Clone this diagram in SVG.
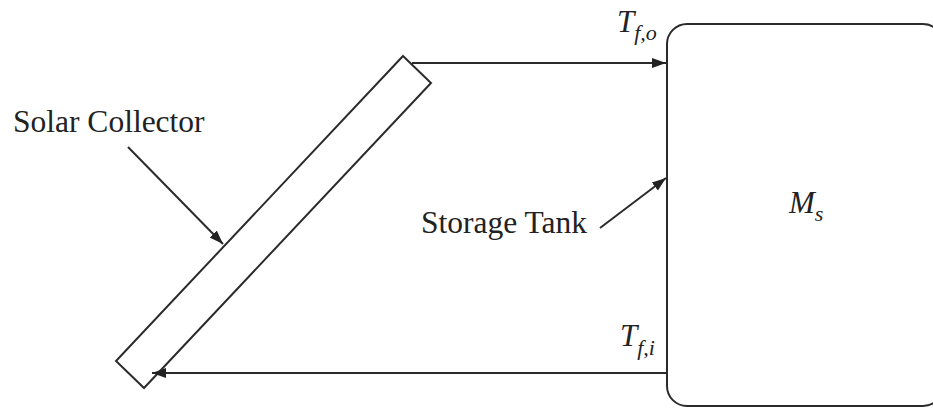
<svg xmlns="http://www.w3.org/2000/svg" width="933" height="408" viewBox="0 0 933 408">
  <style>
    .shape { fill: #ffffff; stroke: #2b2b2b; stroke-width: 2; }
    .conn { fill: none; stroke: #2b2b2b; stroke-width: 2; }
    .lbl { font-family: "Liberation Serif", "Times New Roman", serif; font-size: 31.5px; fill: #222222; }
    .var { font-family: "Liberation Serif", "Times New Roman", serif; font-size: 31px; font-style: italic; fill: #222222; }
    .sub { font-size: 22px; }
  </style>
  <defs>
    <marker id="arrow" markerUnits="userSpaceOnUse" markerWidth="15" markerHeight="12" refX="14" refY="6" orient="auto">
      <path d="M0,1 L14,6 L0,11 z" fill="#222222"/>
    </marker>
  </defs>
  <rect width="933" height="408" fill="#ffffff"/>

  <g id="collector">
    <polygon class="shape" points="403,56 431,83 144,388 116,361"/>
  </g>

  <g id="tank">
    <rect class="shape" x="667" y="24" width="276" height="382" rx="20" ry="20"/>
    <text class="var" x="789" y="213">M<tspan class="sub" dy="8">s</tspan></text>
  </g>

  <g id="connectors">
    <line class="conn" x1="412" y1="63" x2="666" y2="63" marker-end="url(#arrow)"/>
    <line class="conn" x1="667" y1="373" x2="152" y2="373" marker-end="url(#arrow)"/>
    <line class="conn" x1="128" y1="147" x2="223" y2="244" marker-end="url(#arrow)"/>
    <line class="conn" x1="600" y1="228" x2="666" y2="178" marker-end="url(#arrow)"/>
  </g>

  <g id="labels">
    <text class="lbl" x="13" y="132">Solar Collector</text>
    <text class="lbl" x="421" y="233">Storage Tank</text>
    <text class="var" x="617" y="32">T<tspan class="sub" dy="8">f,o</tspan></text>
    <text class="var" x="620" y="346">T<tspan class="sub" dy="9">f,i</tspan></text>
  </g>
</svg>
